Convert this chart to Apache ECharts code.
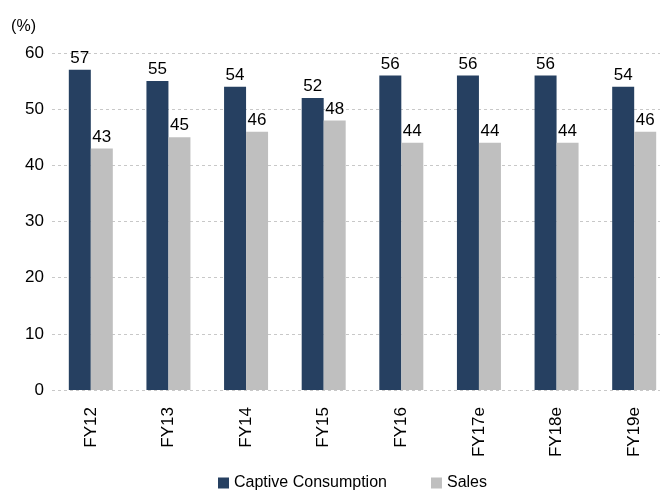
<!DOCTYPE html>
<html>
<head>
<meta charset="utf-8">
<script src="https://cdn.jsdelivr.net/npm/echarts@6/dist/echarts.min.js"></script>
<style>
  html, body { margin: 0; padding: 0; background: #fff; }
  #chart { width: 660px; height: 492px; }
</style>
</head>
<body>
<div id="chart"></div>
<script>
// Fiscal years on the category axis
const categories = ['FY12', 'FY13', 'FY14', 'FY15', 'FY16', 'FY17e', 'FY18e', 'FY19e'];
// Share of output (%)
const captiveConsumption = [57, 55, 54, 52, 56, 56, 56, 54];
const sales = [43, 45, 46, 48, 44, 44, 44, 46];
// Value axis ticks
const yTicks = [0, 10, 20, 30, 40, 50, 60];

const FONT = "'Liberation Sans Narrow', 'Liberation Sans', Arial, sans-serif";
const chart = echarts.init(document.getElementById('chart'), null, { renderer: 'canvas' });

const labelStyle = {
  show: true,
  position: 'top',
  distance: 3,
  color: '#000',
  fontFamily: FONT,
  fontSize: 17
};

chart.setOption({
  animation: false,
  textStyle: { fontFamily: FONT },
  // plot area runs slightly past the right edge of the canvas
  grid: {
    left: 52, top: 53, width: 621, height: 337,
    containLabel: false,
    outerBoundsMode: 'none'
  },
  legend: {
    top: 470,
    left: 213,
    itemWidth: 11,
    itemHeight: 11,
    itemGap: 44,
    icon: 'rect',
    textStyle: { fontFamily: FONT, fontSize: 16, color: '#000' },
    data: ['Captive Consumption', 'Sales']
  },
  xAxis: {
    type: 'category',
    data: categories,
    axisLine: { show: false },
    axisTick: { show: false },
    axisLabel: {
      rotate: 90,
      margin: 17,
      color: '#000',
      fontFamily: FONT,
      fontSize: 17
    }
  },
  yAxis: {
    type: 'value',
    min: yTicks[0],
    max: yTicks[yTicks.length - 1],
    interval: 10,
    name: '(%)',
    nameLocation: 'end',
    nameGap: 18,
    nameTextStyle: { align: 'right', padding: [0, 16, 0, 0], color: '#000', fontFamily: FONT, fontSize: 16 },
    axisLine: { show: false },
    axisTick: { show: false },
    axisLabel: { margin: 8, color: '#000', fontFamily: FONT, fontSize: 17 },
    splitLine: { lineStyle: { color: '#c8c8c8', type: [3, 3], width: 1 } }
  },
  series: [
    {
      name: 'Captive Consumption',
      type: 'bar',
      data: captiveConsumption,
      barWidth: 22,
      barGap: '0%',
      itemStyle: { color: '#264061' },
      label: labelStyle
    },
    {
      name: 'Sales',
      type: 'bar',
      data: sales,
      barWidth: 22,
      barGap: '0%',
      itemStyle: { color: '#bfbfbf' },
      label: labelStyle
    }
  ]
});
</script>
</body>
</html>
